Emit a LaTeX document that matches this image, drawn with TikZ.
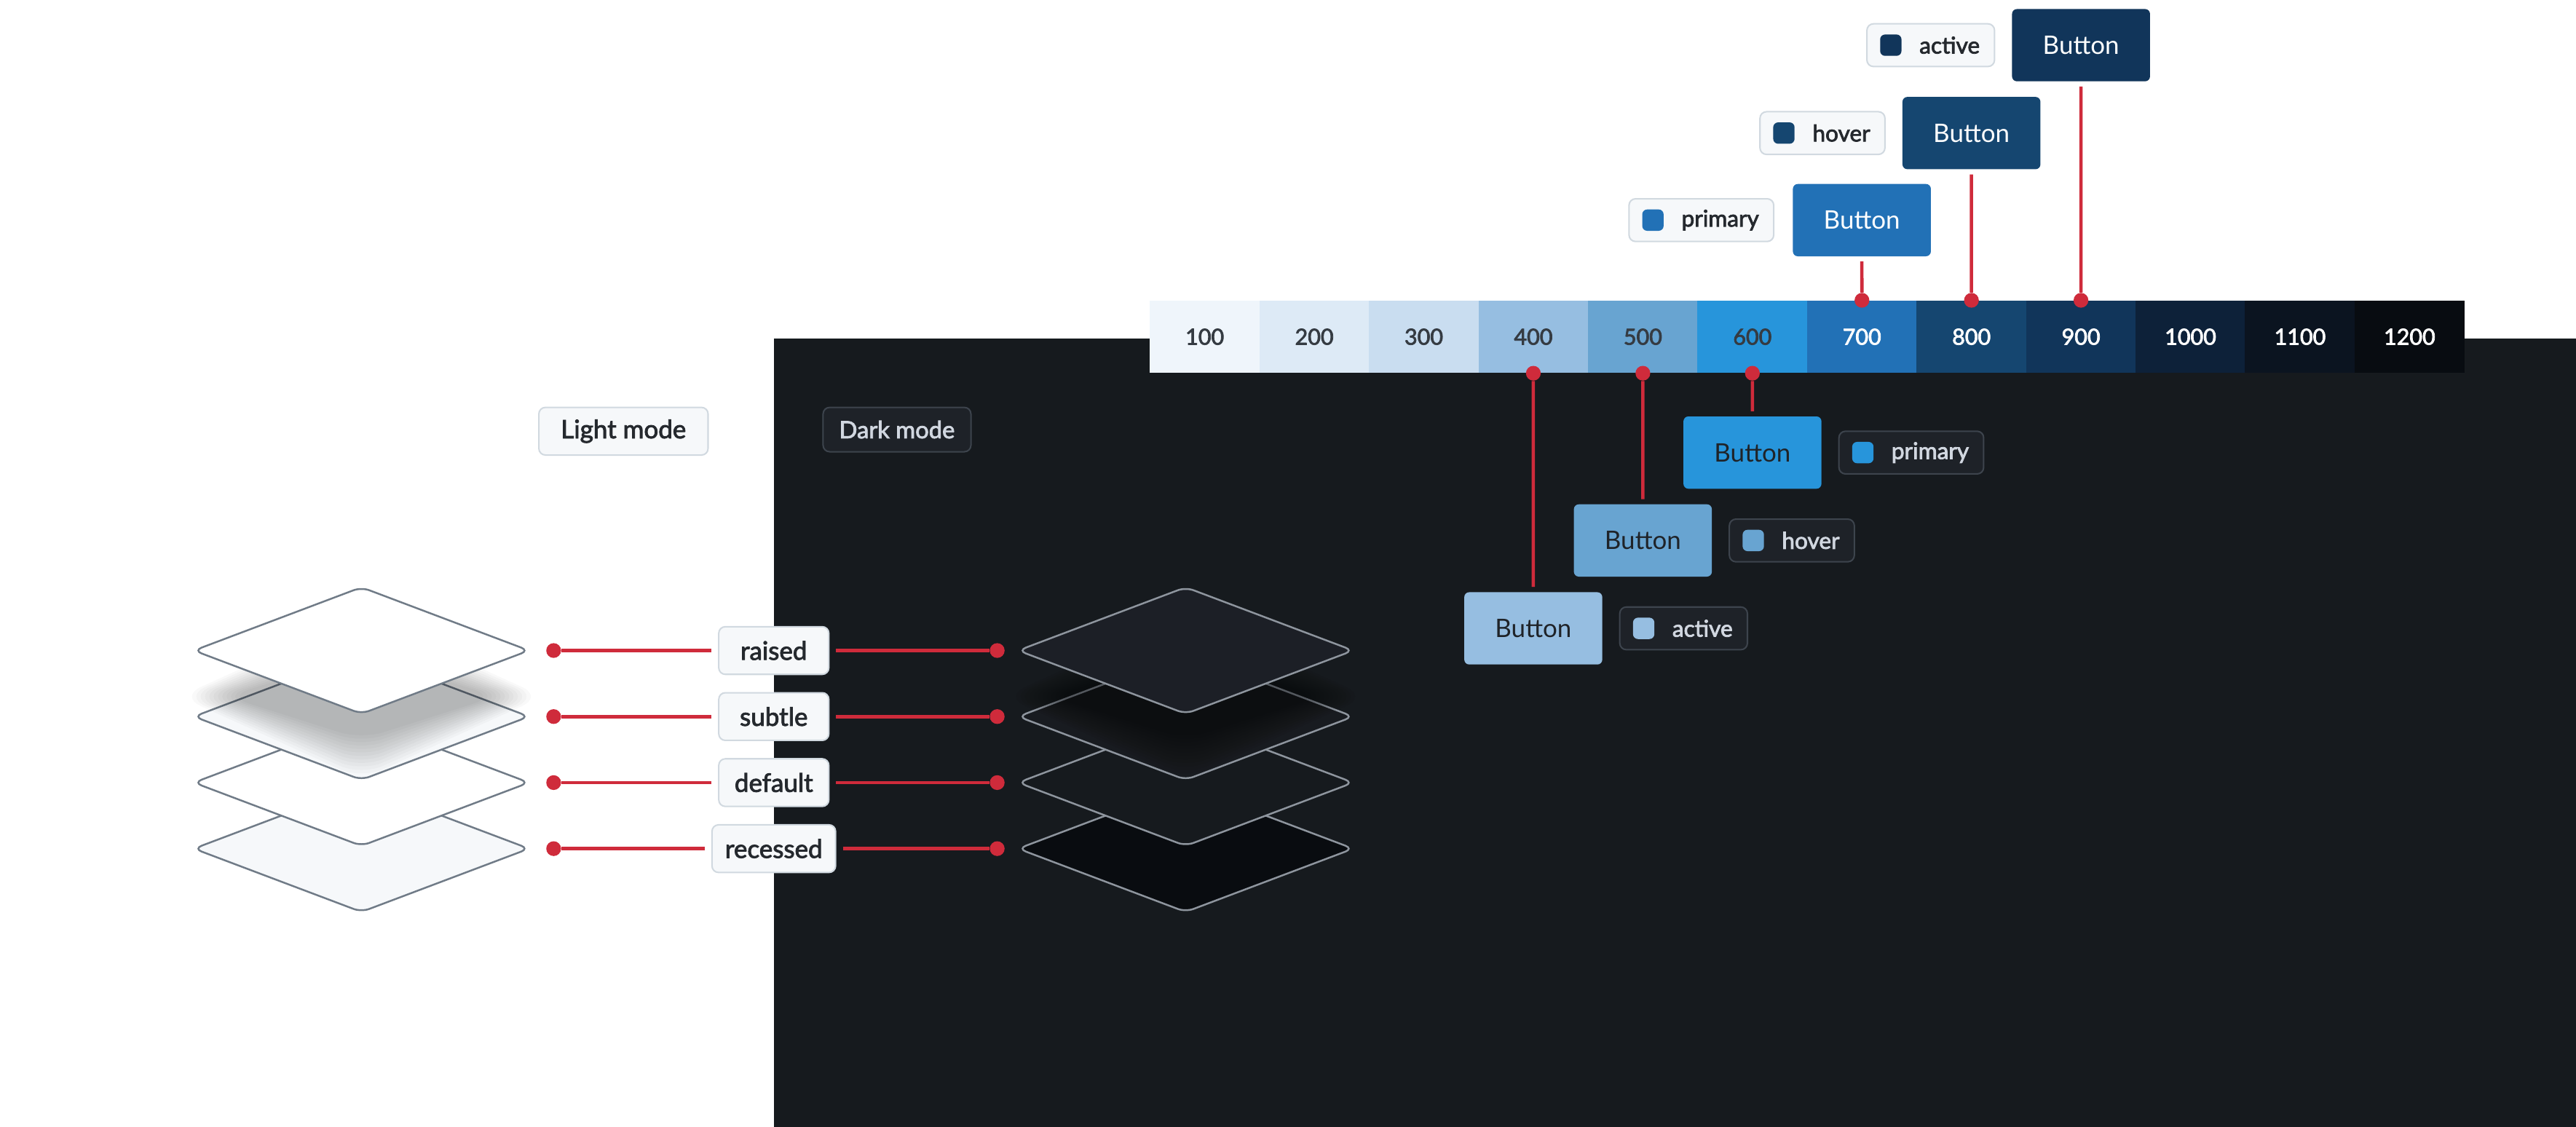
\documentclass[tikz,border=0pt]{standalone}
\usepackage{fontspec}
\setmainfont{Lato}
\newfontfamily\medf[FakeBold=2.5]{Lato}
\definecolor{bgdark}{HTML}{161A1E}
\definecolor{c100}{HTML}{EFF5FB}
\definecolor{c200}{HTML}{DDEAF6}
\definecolor{c300}{HTML}{C9DDF0}
\definecolor{c400}{HTML}{96BEE1}
\definecolor{c500}{HTML}{68A4D1}
\definecolor{c600}{HTML}{2795DB}
\definecolor{c700}{HTML}{2271B6}
\definecolor{c800}{HTML}{154670}
\definecolor{c900}{HTML}{11355A}
\definecolor{c1000}{HTML}{0D2139}
\definecolor{c1100}{HTML}{0B1420}
\definecolor{c1200}{HTML}{080C11}
\definecolor{lnred}{HTML}{CF2B3B}
\definecolor{lfill}{HTML}{F6F8FA}
\definecolor{lborder}{HTML}{D1D9E0}
\definecolor{ltext}{HTML}{25292E}
\definecolor{numd}{HTML}{353B42}
\definecolor{dfill}{HTML}{1E2228}
\definecolor{dborder}{HTML}{3D444D}
\definecolor{dtext}{HTML}{D1D7E0}
\definecolor{btntxt}{HTML}{1F2328}
\definecolor{lstroke}{HTML}{707B87}
\definecolor{dstroke}{HTML}{8E959E}
\definecolor{draised}{HTML}{1C1F26}
\definecolor{dsubtle}{HTML}{181B20}
\definecolor{drecess}{HTML}{090C10}
\newcommand\plate[4]{\filldraw[fill=#3, draw=#4, line width=1.1pt, rounded corners=5pt] ({#1-102},#2) -- (#1,{#2-38.5}) -- ({#1+102},#2) -- (#1,{#2+38.5}) -- cycle;}
\newcommand\plshadow[3]{\foreach \k in {0,...,11} {\fill[black, opacity=#3, rounded corners=14pt] ({#1-82-2.6*\k},#2) -- (#1,{#2-26-2.2*\k}) -- ({#1+82+2.6*\k},#2) -- (#1,{#2+26+2.2*\k}) -- cycle;}}
\begin{document}
\begin{tikzpicture}[x=1pt,y=-1pt,
  tagl/.style={draw=lborder, fill=lfill, text=ltext, rounded corners=4pt, line width=0.9pt, inner xsep=8pt, inner ysep=0pt, minimum height=29pt, font=\medf\fontsize{15.5}{18}\selectfont},
  tagd/.style={draw=dborder, fill=dfill, text=dtext, rounded corners=4pt, line width=0.9pt, inner xsep=8pt, inner ysep=0pt, minimum height=27pt, font=\medf\fontsize{14.5}{17}\selectfont},
  stagl/.style={tagl, minimum height=26pt, inner xsep=9pt, font=\medf\fontsize{14}{16}\selectfont},
  stagd/.style={tagd, minimum height=26pt, inner xsep=9pt, font=\medf\fontsize{14}{16}\selectfont},
  sq/.style={rounded corners=3pt, minimum size=13pt, inner sep=0pt},
  btn/.style={rounded corners=3pt, minimum width=84pt, minimum height=44pt, inner sep=0pt, font=\fontsize{15.5}{18}\selectfont},
  cell/.style={minimum width=66.9pt, minimum height=44pt, inner sep=0pt, font=\medf\fontsize{13.5}{16}\selectfont},
  dot/.style={circle, fill=lnred, inner sep=0pt, minimum size=9pt},
  conn/.style={draw=lnred, line width=2pt},
]
\fill[white] (0,0) rectangle (1568,686);
\useasboundingbox (0,0) rectangle (1568,686);
\fill[bgdark] (471,206) rectangle (1568,686);

% light stack
\plate{220}{516.6}{lfill}{lstroke}
\plate{220}{476.4}{white}{lstroke}
\plate{220}{436.2}{lfill}{lstroke}
\plshadow{220}{424}{0.022}
\plate{220}{396}{white}{lstroke}

% dark stack
\plate{721.7}{516.6}{drecess}{dstroke}
\plate{721.7}{476.4}{bgdark}{dstroke}
\plate{721.7}{436.2}{dsubtle}{dstroke}
\plshadow{721.7}{424}{0.04}
\plate{721.7}{396}{draised}{dstroke}

% layer labels and connectors
\foreach \nm/\yy in {raised/396, subtle/436.2, default/476.4, recessed/516.6} {
  \node[tagl, minimum width=67pt] (t\nm) at (471,\yy) {\nm};
  \node[dot] (dl\nm) at (337,\yy) {};
  \node[dot] (dd\nm) at (607,\yy) {};
  \draw[conn, shorten >=4pt] (dl\nm) -- (t\nm);
  \draw[conn, shorten <=4pt] (t\nm) -- (dd\nm);
}

% mode tags
\node[tagl, minimum width=103pt] (lm) at (379.5,262.5) {Light mode};
\node[tagd, minimum width=90pt] (dm) at (546,261.5) {Dark mode};

% swatch bar
\foreach \n/\tc [count=\i] in {100/numd,200/numd,300/numd,400/numd,500/numd,600/numd,700/white,800/white,900/white,1000/white,1100/white,1200/white}
  \node[cell, fill=c\n, text=\tc] (s\n) at ({700+66.6667*(\i-0.5)},205) {\n};

% light-mode buttons
\node[btn, fill=c700, text=white] (bp) at (1133.3,134) {Button};
\node[btn, fill=c800, text=white] (bh) at (1200,81) {Button};
\node[btn, fill=c900, text=white] (ba) at (1266.7,27.5) {Button};
\node[stagl, anchor=east] (tgp) at ([xshift=-11pt]bp.west) {\hspace*{23pt}primary};
\node[sq, fill=c700] (qp) at ([xshift=15pt]tgp.west) {};
\node[stagl, anchor=east] (tgh) at ([xshift=-10pt]bh.west) {\hspace*{23pt}hover};
\node[sq, fill=c800] (qh) at ([xshift=15pt]tgh.west) {};
\node[stagl, anchor=east] (tga) at ([xshift=-10pt]ba.west) {\hspace*{23pt}active};
\node[sq, fill=c900] (qa) at ([xshift=15pt]tga.west) {};
\node[dot] (dp) at (s700.north) {};
\node[dot] (dh) at (s800.north) {};
\node[dot] (da) at (s900.north) {};
\draw[conn, shorten >=3pt] (dp) -- (bp);
\draw[conn, shorten >=3pt] (dh) -- (bh);
\draw[conn, shorten >=3pt] (da) -- (ba);

% dark-mode buttons
\node[btn, fill=c600, text=btntxt] (b6) at (1066.7,275.5) {Button};
\node[btn, fill=c500, text=btntxt] (b5) at (1000,329) {Button};
\node[btn, fill=c400, text=btntxt] (b4) at (933.3,382.5) {Button};
\node[stagd, anchor=west] (tdp) at ([xshift=10pt]b6.east) {\hspace*{23pt}primary};
\node[sq, fill=c600] (qdp) at ([xshift=15pt]tdp.west) {};
\node[stagd, anchor=west] (tdh) at ([xshift=10pt]b5.east) {\hspace*{23pt}hover};
\node[sq, fill=c500] (qdh) at ([xshift=15pt]tdh.west) {};
\node[stagd, anchor=west] (tda) at ([xshift=10pt]b4.east) {\hspace*{23pt}active};
\node[sq, fill=c400] (qda) at ([xshift=15pt]tda.west) {};
\node[dot] (d6) at (s600.south) {};
\node[dot] (d5) at (s500.south) {};
\node[dot] (d4) at (s400.south) {};
\draw[conn, shorten >=3pt] (d6) -- (b6);
\draw[conn, shorten >=3pt] (d5) -- (b5);
\draw[conn, shorten >=3pt] (d4) -- (b4);
\end{tikzpicture}
\end{document}
